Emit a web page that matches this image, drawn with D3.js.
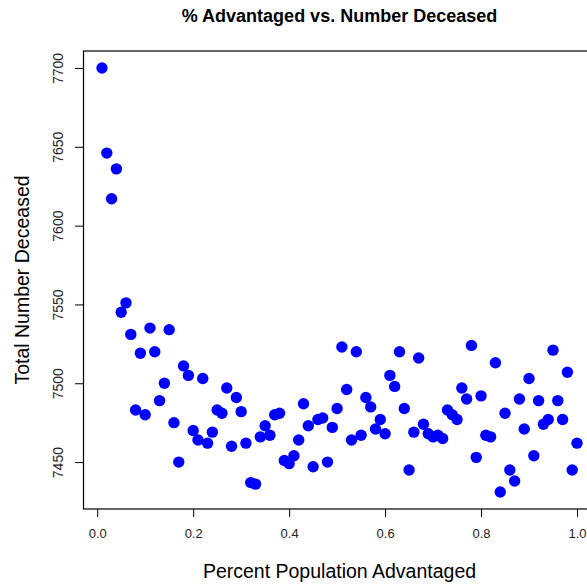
<!DOCTYPE html>
<html lang="en">
<head>
<meta charset="utf-8">
<title>% Advantaged vs. Number Deceased</title>
<script type="text/javascript" src="https://d3js.org/d3.v7.min.js"></script>
<style>
body { margin: 0; background: #fff; }
svg { font-family: "Liberation Sans", Arial, sans-serif; display: block; }
.tick line { stroke: #000; }
</style>
</head>
<body>
<div id="chart"></div>
<script type="text/javascript">

// x: share of the population that is advantaged
var pctAdvantaged = [
  0.01, 0.02, 0.03, 0.04, 0.05, 0.06, 0.07, 0.08, 0.09, 0.10,
  0.11, 0.12, 0.13, 0.14, 0.15, 0.16, 0.17, 0.18, 0.19, 0.20,
  0.21, 0.22, 0.23, 0.24, 0.25, 0.26, 0.27, 0.28, 0.29, 0.30,
  0.31, 0.32, 0.33, 0.34, 0.35, 0.36, 0.37, 0.38, 0.39, 0.40,
  0.41, 0.42, 0.43, 0.44, 0.45, 0.46, 0.47, 0.48, 0.49, 0.50,
  0.51, 0.52, 0.53, 0.54, 0.55, 0.56, 0.57, 0.58, 0.59, 0.60,
  0.61, 0.62, 0.63, 0.64, 0.65, 0.66, 0.67, 0.68, 0.69, 0.70,
  0.71, 0.72, 0.73, 0.74, 0.75, 0.76, 0.77, 0.78, 0.79, 0.80,
  0.81, 0.82, 0.83, 0.84, 0.85, 0.86, 0.87, 0.88, 0.89, 0.90,
  0.91, 0.92, 0.93, 0.94, 0.95, 0.96, 0.97, 0.98, 0.99, 1.00
];

// y: total number deceased
var totalDeceased = [
  7700, 7646, 7617, 7636, 7545, 7551, 7531, 7483, 7519, 7480,
  7535, 7520, 7489, 7500, 7534, 7475, 7450, 7511, 7505, 7470,
  7464, 7503, 7462, 7469, 7483, 7481, 7497, 7460, 7491, 7482,
  7462, 7437, 7436, 7466, 7473, 7467, 7480, 7481, 7451, 7449,
  7454, 7464, 7487, 7473, 7447, 7477, 7478, 7450, 7472, 7484,
  7523, 7496, 7464, 7520, 7467, 7491, 7485, 7471, 7477, 7468,
  7505, 7498, 7520, 7484, 7445, 7469, 7516, 7474, 7468, 7466,
  7467, 7465, 7483, 7480, 7477, 7497, 7490, 7524, 7453, 7492,
  7467, 7466, 7513, 7431, 7481, 7445, 7438, 7490, 7471, 7503,
  7454, 7489, 7474, 7477, 7521, 7489, 7477, 7507, 7445, 7462
];

var xTicks = [0, 0.2, 0.4, 0.6, 0.8, 1.0];
var yTicks = [7450, 7500, 7550, 7600, 7650, 7700];

var w = 587, h = 584;
var margin = {top: 51, right: -9, bottom: 75, left: 83};
var innerW = w - margin.left - margin.right;
var innerH = h - margin.top - margin.bottom;

// pad data range by 4% each side, like base R plots
function padded(vals) {
  var ext = d3.extent(vals);
  var pad = (ext[1] - ext[0]) * 0.04;
  return [ext[0] - pad, ext[1] + pad];
}

var x = d3.scaleLinear().domain(padded(pctAdvantaged)).range([0, innerW]);
var y = d3.scaleLinear().domain(padded(totalDeceased)).range([innerH, 0]);

var svg = d3.select("#chart").append("svg")
  .attr("width", w)
  .attr("height", h);

var g = svg.append("g")
  .attr("transform", "translate(" + margin.left + "," + margin.top + ")");

// points
g.selectAll("circle")
  .data(pctAdvantaged.map(function(d, i) { return [d, totalDeceased[i]]; }))
  .enter()
  .append("circle")
  .attr("cx", d => x(d[0]))
  .attr("cy", d => y(d[1]))
  .attr("r", 5.7)
  .attr("fill", "#0000ff");

// box
g.append("rect")
  .attr("x", 0.5)
  .attr("y", 0)
  .attr("width", innerW)
  .attr("height", innerH)
  .attr("fill", "none")
  .attr("stroke", "#000")
  .attr("stroke-width", 1.2);

// x axis
var xAxis = g.append("g")
  .attr("transform", "translate(0," + innerH + ")")
  .call(d3.axisBottom(x).tickValues(xTicks).tickFormat(d3.format(".1f")).tickSize(8).tickSizeOuter(0));
xAxis.select(".domain").remove();
xAxis.selectAll("text")
  .attr("y", 20)
  .attr("font-size", 13)
  .attr("font-family", "Liberation Sans, Arial, sans-serif")
  .attr("fill", "#222");

// y axis
var yAxis = g.append("g")
  .call(d3.axisLeft(y).tickValues(yTicks).tickFormat(d3.format("d")).tickSize(8).tickSizeOuter(0));
yAxis.select(".domain").remove();
yAxis.selectAll("text")
  .attr("x", null)
  .attr("dy", null)
  .attr("text-anchor", "middle")
  .attr("transform", "translate(-20,0) rotate(-90)")
  .attr("font-size", 14)
  .attr("font-family", "Liberation Sans, Arial, sans-serif")
  .attr("fill", "#222");

// title
svg.append("text")
  .attr("x", margin.left + innerW / 2)
  .attr("y", 22)
  .attr("text-anchor", "middle")
  .attr("font-weight", "bold")
  .attr("font-size", 18)
  .text("% Advantaged vs. Number Deceased");

// axis titles
svg.append("text")
  .attr("x", margin.left + innerW / 2)
  .attr("y", 578)
  .attr("text-anchor", "middle")
  .attr("font-size", 19.5)
  .text("Percent Population Advantaged");

svg.append("text")
  .attr("transform", "translate(29," + (margin.top + innerH / 2) + ") rotate(-90)")
  .attr("text-anchor", "middle")
  .attr("font-size", 19.5)
  .text("Total Number Deceased");

</script>
</body>
</html>
